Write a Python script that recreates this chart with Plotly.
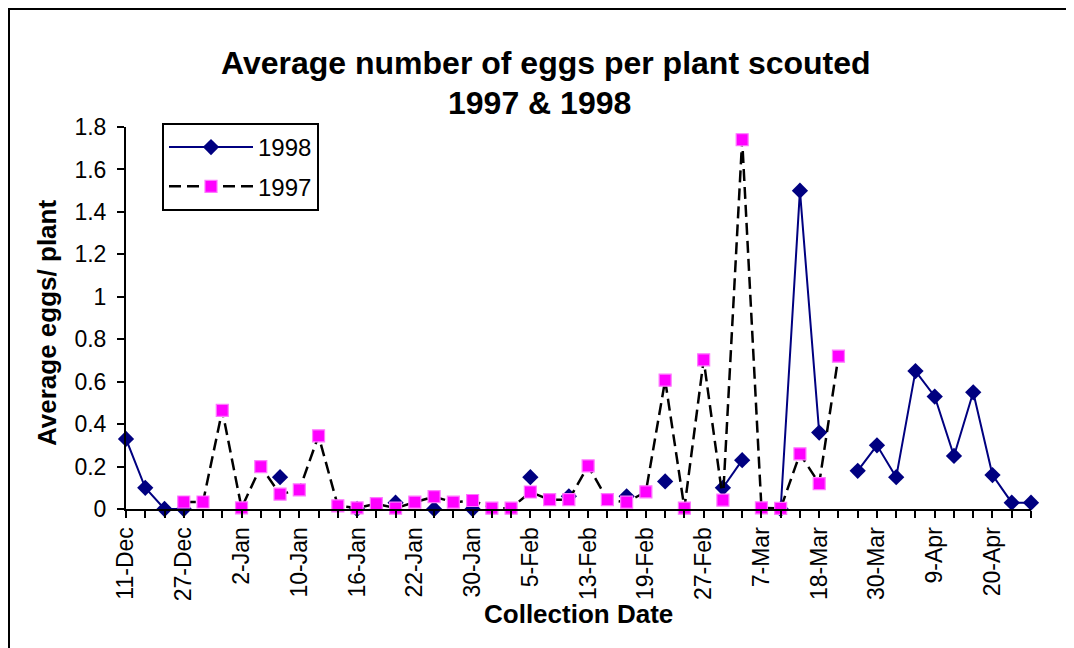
import plotly.graph_objects as go

# ---- data ----
n_categories = 48
date_labels = ["11-Dec", "27-Dec", "2-Jan", "10-Jan", "16-Jan", "22-Jan", "30-Jan", "5-Feb",
               "13-Feb", "19-Feb", "27-Feb", "7-Mar", "18-Mar", "30-Mar", "9-Apr", "20-Apr"]
label_every = 3

eggs_1998 = [0.33, 0.10, 0.0, 0.0, None, None, None, None, 0.15, None,
             None, None, 0.0, None, 0.03, None, 0.0, None, 0.0, None,
             None, 0.15, None, 0.06, None, None, 0.06, None, 0.13, None,
             None, 0.10, 0.23, None, 0.0, 1.50, 0.36, None, 0.18, 0.30,
             0.15, 0.65, 0.53, 0.25, 0.55, 0.16, 0.03, 0.03]

eggs_1997 = [None, None, None, 0.033, 0.033, 0.465, 0.005, 0.20, 0.07, 0.09,
             0.345, 0.015, 0.005, 0.025, 0.004, 0.032, 0.058, 0.032, 0.04, 0.004,
             0.004, 0.08, 0.044, 0.044, 0.203, 0.044, 0.032, 0.081, 0.607, 0.004,
             0.703, 0.042, 1.74, 0.005, 0.003, 0.26, 0.12, 0.72, None, None,
             None, None, None, None, None, None, None, None]

categories = list(range(n_categories))
tick_text = []
k = 0
for i in categories:
    if i % label_every == 0 and k < len(date_labels):
        tick_text.append(date_labels[k])
        k += 1
    else:
        tick_text.append("")

FONT = "Liberation Sans, Arial, sans-serif"

fig = go.Figure()
fig.add_trace(go.Scatter(
    x=categories, y=eggs_1998, name="1998", mode="lines+markers",
    line=dict(color="#000080", width=2),
    marker=dict(symbol="diamond", size=12.5, color="#000080", line=dict(width=0)),
    connectgaps=False, cliponaxis=False, legendgroup="a",
))
fig.add_trace(go.Scatter(
    x=categories, y=eggs_1997, name="1997", mode="lines+markers",
    line=dict(color="black", width=2.5, dash="12px,6px"),
    marker=dict(symbol="square", size=12, color="#FF00FF", line=dict(width=1.2, color="#FF77FF")),
    connectgaps=False, cliponaxis=False, legendgroup="b",
))

# page shows the figure offset by the body margin (8 px)
OFF = 8
W, H = 1074, 648
# screen-pixel geometry of the plot area
SX0, SX1, SY0, SY1 = 126, 1031, 127, 509
L = SX0 - OFF
T = SY0 - OFF
R = W - (SX1 - OFF)
B = H - (SY1 - OFF)
pw, ph = SX1 - SX0, SY1 - SY0

def px_x(px):
    return (px - SX0) / pw

def px_y(py):
    return (SY1 - py) / ph

fig.update_layout(
    width=W, height=H,
    margin=dict(l=L, r=R, t=T, b=B),
    paper_bgcolor="white", plot_bgcolor="white",
    font=dict(family=FONT, color="black"),
    showlegend=True,
    legend=dict(
        x=px_x(162), y=px_y(123), xanchor="left", yanchor="top",
        bordercolor="black", borderwidth=2, bgcolor="white",
        font=dict(size=24, family=FONT), itemwidth=84, tracegroupgap=5,
    ),
    xaxis=dict(
        range=[0, n_categories - 1], tickmode="array", tickvals=categories, ticktext=tick_text,
        tickangle=-90, tickfont=dict(size=23, family=FONT),
        showline=True, linecolor="black", linewidth=2,
        ticks="outside", ticklen=7, tickwidth=2, tickcolor="black",
        showgrid=False, zeroline=False,
    ),
    yaxis=dict(
        range=[0, 1.8], dtick=0.2, tick0=0,
        tickfont=dict(size=23, family=FONT),
        showline=True, linecolor="black", linewidth=2,
        ticks="outside", ticklen=7, tickwidth=2, tickcolor="black",
        showgrid=False, zeroline=False, ticklabelstandoff=6,
    ),
    xaxis2=dict(
        overlaying="x", anchor="y", range=[0, n_categories - 1], tickmode="array",
        tickvals=categories, ticks="inside", ticklen=6, tickwidth=2, tickcolor="black",
        showticklabels=False, showline=False, showgrid=False, zeroline=False,
    ),
    yaxis2=dict(
        overlaying="y", anchor="x", side="left", range=[0, 1.8], dtick=0.2, tick0=0,
        ticks="inside", ticklen=7, tickwidth=2, tickcolor="black",
        showticklabels=False, showline=False, showgrid=False, zeroline=False,
    ),
)

annos = [
    dict(text="<b>Average number of eggs per plant scouted</b>", x=px_x(546), y=px_y(63),
         font=dict(size=32)),
    dict(text="<b>1997 & 1998</b>", x=px_x(539), y=px_y(103), font=dict(size=32)),
    dict(text="<b>Average eggs/ plant</b>", x=px_x(47), y=px_y(323), textangle=-90,
         font=dict(size=26)),
    dict(text="<b>Collection Date</b>", x=px_x(578), y=px_y(614), font=dict(size=26)),
]
for a in annos:
    fig.add_annotation(xref="paper", yref="paper", showarrow=False,
                       xanchor="center", yanchor="middle", **a)

fig.add_shape(type="rect", xref="paper", yref="paper",
              x0=px_x(9), x1=px_x(1067), y0=px_y(660), y1=px_y(9),
              line=dict(color="black", width=2), fillcolor="rgba(0,0,0,0)", layer="below")

fig.write_html("out.html")
